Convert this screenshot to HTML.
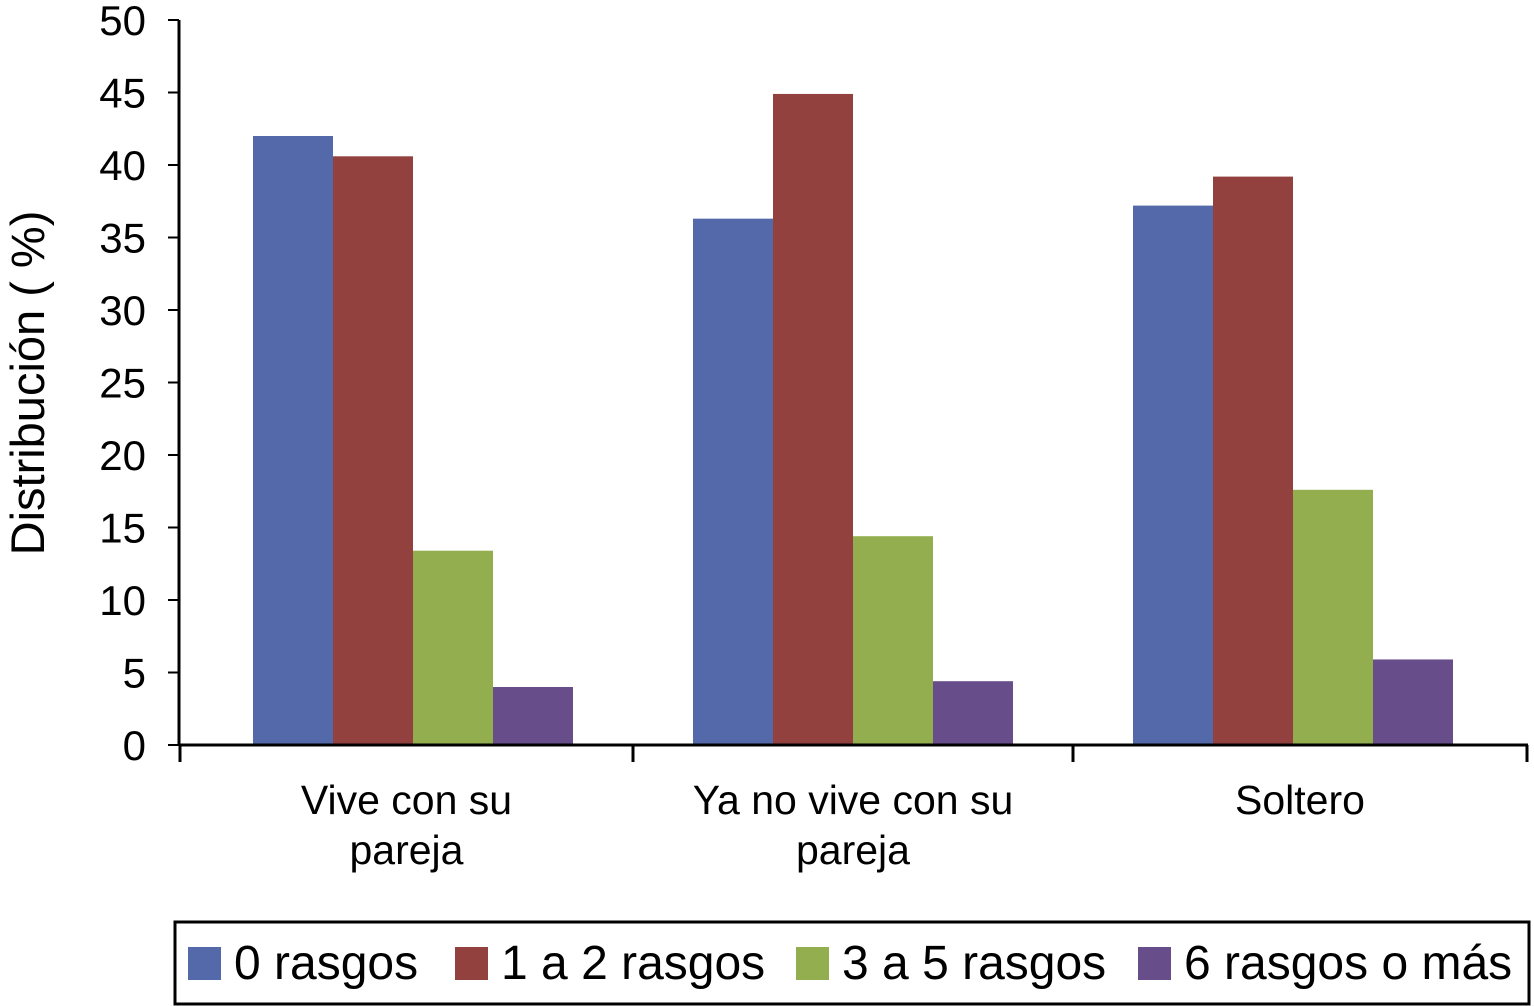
<!DOCTYPE html>
<html><head><meta charset="utf-8"><style>
body{margin:0;background:#fff;}
svg{display:block;font-family:"Liberation Sans",Arial,sans-serif;}
</style></head><body>
<svg id="chart" width="1534" height="1006"></svg>
<script>
const categories = [["Vive con su","pareja"],["Ya no vive con su","pareja"],["Soltero"]];
const seriesNames = ["0 rasgos","1 a 2 rasgos","3 a 5 rasgos","6 rasgos o más"];
const s0 = [42.0, 36.3, 37.2];
const s1 = [40.6, 44.9, 39.2];
const s2 = [13.4, 14.4, 17.6];
const s3 = [4.0, 4.4, 5.9];
const yTicks = [0,5,10,15,20,25,30,35,40,45,50];
const colors = ["#5469aa","#93413f","#93ae4f","#674d8a"];
const series = [s0,s1,s2,s3];
const NS="http://www.w3.org/2000/svg";
const svg=document.getElementById('chart');
function mk(t,a,p){const e=document.createElementNS(NS,t);for(const k in a)e.setAttribute(k,a[k]);(p||svg).appendChild(e);return e;}
const y0=745,y1=20,ymax=50;
function y(v){return y0-(v/ymax)*(y0-y1);}
const bandStart=193,bandW=440;
function xc(i){return bandStart+bandW*(i+0.5);}
const tickX=[180,633,1073,1527];
const barW=80;
series.forEach((s,si)=>{s.forEach((v,ci)=>{
  const r=mk('rect',{x:xc(ci)-2*barW+si*barW,y:y(v),width:barW,height:y0-y(v),fill:colors[si]});
  
  
});});
const ya=mk('line',{x1:179,y1:y1,x2:179,y2:y0,stroke:'#000','stroke-width':3});

yTicks.forEach(t=>{
  mk('line',{x1:168,y1:y(t),x2:179,y2:y(t),stroke:'#000','stroke-width':2});
  const tx=mk('text',{x:146,y:y(t)+15,'font-size':42,'text-anchor':'end',fill:'#000'});
  tx.textContent=t;
  
  
});
const xa=mk('line',{x1:179,y1:y0,x2:1528,y2:y0,stroke:'#000','stroke-width':3});

tickX.forEach(x=>mk('line',{x1:x,y1:y0,x2:x,y2:762,stroke:'#000','stroke-width':3}));
categories.forEach((c,i)=>{
  c.forEach((line,j)=>{
    const t=mk('text',{x:(tickX[i]+tickX[i+1])/2,y:814+j*50,'font-size':41,'text-anchor':'middle',fill:'#000'});
    t.textContent=line;
    
    
  });
});
const yt=mk('text',{x:0,y:0,'font-size':47,'text-anchor':'middle',fill:'#000',transform:'translate(44,383) rotate(-90)'});
yt.textContent='Distribución ( %)';


const lg=mk('rect',{x:175,y:922,width:1354,height:82,fill:'#fff',stroke:'#000','stroke-width':3});

const lx=[188,455,796,1138];
seriesNames.forEach((n,i)=>{
  const g=mk('g',{});
  
  
  mk('rect',{x:lx[i],y:947,width:33,height:33,fill:colors[i]},g);
  const t=mk('text',{x:lx[i]+46,y:979,'font-size':48,fill:'#000'},g);
  t.textContent=n;
});
</script>
</body></html>
